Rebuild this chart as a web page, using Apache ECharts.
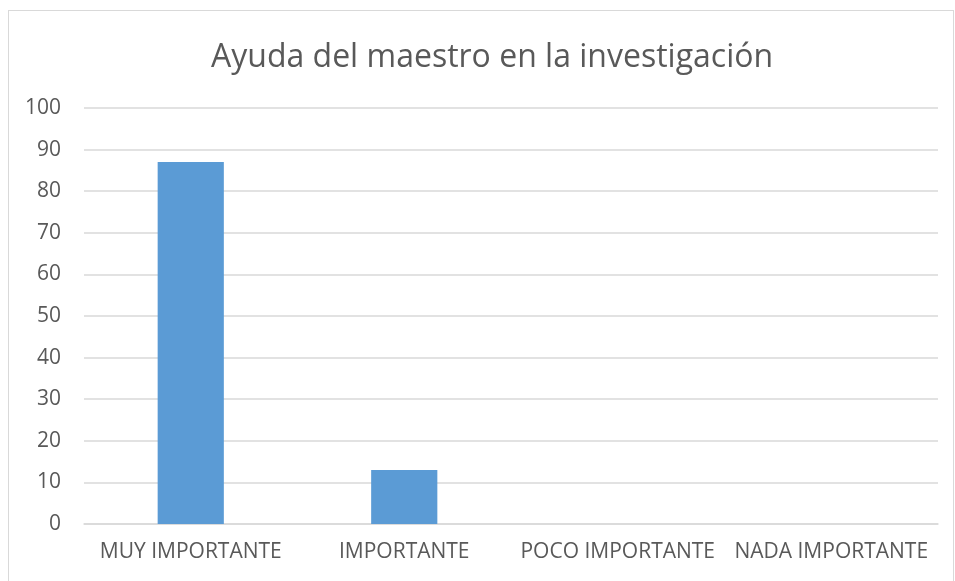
<!DOCTYPE html>
<html>
<head>
<meta charset="utf-8">
<script src="https://cdn.jsdelivr.net/npm/echarts@6/dist/echarts.min.js"></script>
<style>
  html, body { margin: 0; padding: 0; background: #fff; }
  #frame {
    position: absolute; left: 8px; top: 10px; width: 946px; height: 600px;
    border: 1px solid #d9d9d9; box-sizing: border-box;
  }
  #chart { position: absolute; left: 0; top: 0; width: 955px; height: 581px; }
</style>
</head>
<body>
<div id="frame"></div>
<div id="chart"></div>
<script>
const titleText = "Ayuda del maestro en la investigación";
const categories = ["MUY IMPORTANTE", "IMPORTANTE", "POCO IMPORTANTE", "NADA IMPORTANTE"];
const values = [87, 13, 0, 0];

const myChart = echarts.init(document.getElementById("chart"));

const option = {
  animation: false,
  title: {
    text: titleText,
    left: 206,
    top: 37,
    textStyle: {
      fontFamily: "Open Sans",
      fontSize: 32,
      fontWeight: "normal",
      color: "#595959",
    },
  },
  grid: {
    left: 84,
    right: 17,
    top: 108,
    bottom: 57,
  },
  xAxis: {
    type: "category",
    data: categories,
    axisTick: { show: false },
    axisLine: { lineStyle: { color: "#d9d9d9", width: 1.5 } },
    axisLabel: {
      interval: 0,
      hideOverlap: false,
      margin: 18,
      fontFamily: "Open Sans",
      fontSize: 21,
      color: "#595959",
    },
  },
  yAxis: {
    type: "value",
    min: 0,
    max: 100,
    interval: 10,
    axisLine: { show: false },
    axisTick: { show: false },
    splitLine: { lineStyle: { color: "#d9d9d9", width: 1.5 } },
    axisLabel: {
      margin: 23,
      fontFamily: "Open Sans",
      fontSize: 21,
      color: "#595959",
    },
  },
  series: [
    {
      type: "bar",
      data: values,
      barWidth: "31%",
      itemStyle: { color: "#5b9bd5" },
    },
  ],
};

myChart.setOption(option);
</script>
</body>
</html>
